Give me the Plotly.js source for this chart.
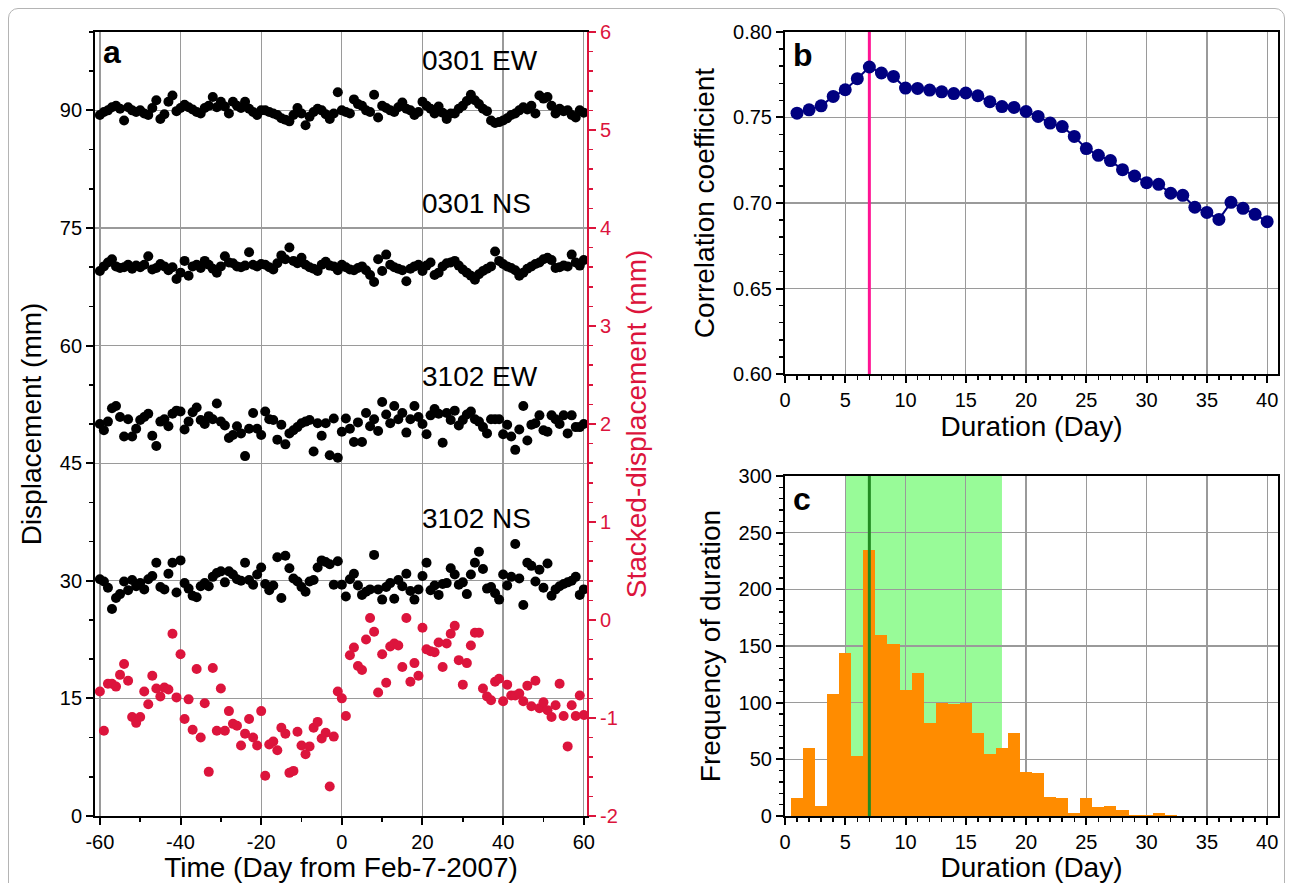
<!DOCTYPE html>
<html><head><meta charset="utf-8">
<script src="https://cdn.plot.ly/plotly-3.0.1.min.js"></script>
<style>
html,body{margin:0;padding:0;background:#fff;overflow:hidden}
#frame{position:absolute;left:8px;top:8px;width:1277px;height:900px;border:1px solid #b4b4b4;border-radius:10px;box-sizing:border-box}
#chart{position:absolute;left:0;top:0;width:1293px;height:883px}
</style></head><body>
<div id="frame"></div><div id="chart"></div>
<script>
// ---------- Panel a data ----------
const days = [-60,-59,-58,-57,-56,-55,-54,-53,-52,-51,-50,-49,-48,-47,-46,-45,-44,-43,-42,-41,-40,-39,-38,-37,-36,-35,-34,-33,-32,-31,-30,-29,-28,-27,-26,-25,-24,-23,-22,-21,-20,-19,-18,-17,-16,-15,-14,-13,-12,-11,-10,-9,-8,-7,-6,-5,-4,-3,-2,-1,0,1,2,3,4,5,6,7,8,9,10,11,12,13,14,15,16,17,18,19,20,21,22,23,24,25,26,27,28,29,30,31,32,33,34,35,36,37,38,39,40,41,42,43,44,45,46,47,48,49,50,51,52,53,54,55,56,57,58,59,60];
const ew0301 = [89.4,89.8,90.0,90.4,90.6,90.2,88.7,90.4,90.0,89.8,90.0,89.6,89.4,90.3,91.3,88.9,89.5,91.1,91.9,89.9,90.3,90.7,90.4,90.1,89.8,89.6,90.3,90.6,91.7,90.4,91.1,90.5,89.6,91.1,90.6,90.3,91.1,90.2,89.8,89.4,90.0,90.0,89.8,89.6,89.4,89.0,88.8,88.6,89.4,90.3,89.6,88.1,89.2,89.8,90.2,90.0,89.5,88.9,89.6,92.3,90.0,89.8,89.6,91.4,90.8,90.6,90.0,89.8,92.0,89.1,90.6,90.3,90.0,89.8,90.4,91.0,90.2,90.0,89.4,89.8,91.1,90.6,90.2,89.6,90.5,89.7,88.9,89.6,89.6,90.2,90.6,91.2,92.0,91.3,90.8,90.2,89.9,88.7,88.4,88.5,88.7,89.0,89.4,89.6,90.0,90.4,90.1,90.6,89.6,91.9,91.5,91.7,90.6,89.6,90.2,89.9,90.0,89.4,89.1,90.0,89.7];
const ns0301 = [69.5,70.1,70.6,71.0,70.1,69.9,70.0,70.3,69.8,70.2,70.0,70.3,71.4,69.7,69.9,70.4,70.1,69.6,70.0,68.5,69.3,70.8,68.9,70.1,70.3,69.9,70.8,70.3,69.8,69.3,70.1,71.4,70.6,70.5,70.1,70.0,70.2,71.9,70.3,70.1,70.4,70.3,70.0,69.7,70.5,71.5,71.0,72.5,70.8,70.5,71.2,70.3,70.0,69.8,69.5,70.3,70.7,70.2,70.1,69.6,70.3,70.0,69.7,69.6,69.9,70.1,69.6,69.0,68.1,71.0,69.5,71.6,70.3,70.0,69.8,69.6,68.2,69.8,70.1,70.3,69.5,70.2,70.6,69.0,69.3,70.1,70.5,70.6,70.8,70.2,69.7,69.3,68.9,68.4,69.1,69.5,69.8,70.1,72.0,70.8,70.4,70.1,69.9,69.6,68.9,69.3,69.8,70.1,70.4,70.6,71.0,71.2,70.9,69.9,70.0,70.2,70.1,71.6,70.6,70.2,70.9];
const ew3102 = [50.0,49.2,50.3,52.0,52.3,50.9,48.4,50.6,48.4,49.4,50.5,50.9,51.3,48.5,47.2,50.3,50.6,49.7,51.3,51.7,51.6,49.3,50.3,51.5,52.1,50.5,50.0,51.0,50.6,52.6,50.3,49.8,48.2,48.6,49.7,48.8,45.9,49.4,51.4,49.4,48.6,51.6,50.6,50.5,48.0,49.9,47.4,48.8,49.2,49.6,50.1,50.3,50.5,46.5,50.1,48.5,50.1,46.0,50.7,45.7,49.0,50.7,49.4,47.7,50.2,47.7,51.4,49.7,50.6,49.1,52.8,51.2,50.1,52.3,50.6,51.4,48.9,50.6,52.3,50.9,50.0,48.7,51.1,51.9,51.3,47.6,51.4,50.5,51.7,49.8,50.5,51.2,51.6,50.6,50.3,49.6,48.8,50.6,50.6,50.6,48.7,49.9,48.4,46.7,49.3,52.3,47.9,49.9,50.1,51.1,49.2,49.0,51.1,50.6,50.0,51.1,48.8,51.1,49.6,49.6,50.0];
const ns3102 = [30.2,29.9,29.1,26.4,27.8,28.3,29.9,28.8,30.1,29.3,29.7,28.9,30.2,30.6,32.3,29.2,28.9,30.9,32.3,28.5,32.6,29.7,29.0,28.1,27.9,29.3,29.7,29.3,30.5,31.0,31.2,29.8,31.2,30.8,30.2,30.0,32.3,30.1,29.5,30.8,31.7,29.6,28.8,29.4,33.0,27.8,33.2,31.6,30.3,29.9,29.2,28.6,29.9,30.1,31.7,32.6,32.4,32.1,29.5,32.5,29.5,28.0,30.2,30.9,29.4,28.2,28.6,28.9,33.3,28.9,27.6,29.2,29.7,27.7,30.1,29.3,30.9,28.7,27.6,28.9,30.6,32.3,28.8,29.4,28.2,29.6,29.7,31.6,30.8,29.5,29.8,28.3,30.8,32.3,33.7,31.5,29.0,29.2,28.4,27.6,30.8,29.4,30.5,34.7,30.3,26.9,32.3,31.9,29.9,31.4,29.1,32.2,28.1,28.9,29.3,29.6,29.8,30.0,30.5,28.2,28.9];
const stacked = [-0.73,-1.13,-0.65,-0.65,-0.68,-0.56,-0.45,-0.62,-0.99,-1.05,-0.99,-0.73,-0.86,-0.57,-0.70,-0.78,-0.69,-0.71,-0.14,-0.79,-0.35,-1.01,-0.81,-1.12,-0.50,-1.20,-0.85,-1.55,-0.49,-1.13,-0.70,-1.13,-0.93,-1.06,-1.08,-1.28,-1.16,-1.01,-1.20,-1.28,-0.93,-1.59,-1.27,-1.24,-1.33,-1.10,-1.16,-1.56,-1.54,-1.14,-1.28,-1.37,-1.29,-1.10,-1.04,-1.21,-1.15,-1.70,-1.19,-0.73,-0.80,-0.98,-0.36,-0.28,-0.47,-0.51,-0.20,0.02,-0.12,-0.74,-0.35,-0.64,-0.27,-0.24,-0.26,-0.48,0.02,-0.63,-0.44,-0.57,-0.08,-0.30,-0.32,-0.33,-0.23,-0.48,-0.24,-0.14,-0.06,-0.41,-0.66,-0.44,-0.26,-0.13,-0.13,-0.70,-0.78,-0.82,-0.63,-0.60,-0.83,-0.66,-0.77,-0.77,-0.75,-0.83,-0.67,-0.88,-0.62,-0.90,-0.84,-0.92,-0.99,-0.87,-0.65,-0.98,-1.29,-0.87,-0.98,-0.77,-0.97];
const seriesLabels = ['0301 EW','0301 NS','3102 EW','3102 NS'];
const seriesLabelY = [96.3, 78.1, 56.0, 38.0];
const seriesLabelX = 19.5;
const timeTicks = [-60,-40,-20,0,20,40,60];
const timeTickText = ['-60','-40','-20','0','20','40','60'];
const dispTicks = [0,15,30,45,60,75,90];
const stackTicks = [-2,-1,0,1,2,3,4,5,6];
const stackTickText = ['-2','-1','0','1','2','3','4','5','6'];

// ---------- Panel b data ----------
const durationDays = [1,2,3,4,5,6,7,8,9,10,11,12,13,14,15,16,17,18,19,20,21,22,23,24,25,26,27,28,29,30,31,32,33,34,35,36,37,38,39,40];
const corrCoef = [0.7525,0.7545,0.7568,0.7623,0.7662,0.7727,0.7795,0.7760,0.7740,0.7672,0.7670,0.7660,0.7650,0.7640,0.7643,0.7627,0.7592,0.7564,0.7559,0.7535,0.7506,0.7467,0.7447,0.7389,0.7318,0.7279,0.7248,0.7195,0.7158,0.7119,0.7109,0.7057,0.7045,0.6975,0.6945,0.6904,0.7004,0.6969,0.6934,0.6891];
const bestDuration = 7;

// ---------- Panel c data ----------
const histDays = [1,2,3,4,5,6,7,8,9,10,11,12,13,14,15,16,17,18,19,20,21,22,23,24,25,26,27,28,29,30,31,32];
const histFreq = [16,60,9,108,144,53,235,160,152,111,126,82,100,99,100,73,55,60,73,39,38,17,16,3,16,8,9,5,1,1,3,1];
const rangeStart = 5, rangeEnd = 18;
const durTicks = [0,5,10,15,20,25,30,35,40];

const FONT = 'Liberation Sans, Arial, Helvetica, sans-serif';
const TICKF = {family: FONT, size: 20, color: '#000'};
const TITLEF = {family: FONT, size: 28, color: '#000'};
const GRID = '#9a9a9a';
const RED = '#dc143c';

const traces = [];
const blackSeries = [ew0301, ns0301, ew3102, ns3102];
blackSeries.forEach((s, i) => traces.push({
  type: 'scatter', mode: 'markers', x: days, y: s, xaxis: 'x', yaxis: 'y',
  marker: {color: '#000', size: 10}, name: seriesLabels[i], showlegend: false
}));
traces.push({
  type: 'scatter', mode: 'markers', x: days, y: stacked, xaxis: 'x', yaxis: 'y2',
  marker: {color: RED, size: 10}, name: 'stacked', showlegend: false
});
traces.push({
  type: 'scatter', mode: 'lines', x: [bestDuration, bestDuration], y: [0.6, 0.8],
  xaxis: 'x2', yaxis: 'y3', line: {color: '#ff1493', width: 3}, showlegend: false
});
traces.push({
  type: 'scatter', mode: 'lines+markers', x: durationDays, y: corrCoef, xaxis: 'x2', yaxis: 'y3',
  line: {color: '#000080', width: 2}, marker: {color: '#000080', size: 13}, showlegend: false
});
traces.push({
  type: 'bar', x: histDays, y: histFreq, width: 1, xaxis: 'x3', yaxis: 'y4',
  marker: {color: '#ff8c00', line: {width: 0}}, showlegend: false
});

const axBase = {
  showline: true, linecolor: '#000', linewidth: 2, ticks: 'outside', ticklen: 7, tickwidth: 2,
  tickcolor: '#000', showgrid: true, gridcolor: GRID, gridwidth: 1.3, zeroline: false,
  tickfont: TICKF, mirror: true, automargin: false
};
const minorT = (d) => ({dtick: d, ticklen: 4, tickwidth: 1.5, tickcolor: '#000', showgrid: false});

const layout = {
  width: 1293, height: 883, margin: {l: 0, r: 0, t: 0, b: 0},
  paper_bgcolor: 'rgba(0,0,0,0)', plot_bgcolor: 'rgba(0,0,0,0)',
  showlegend: false, bargap: 0,
  font: {family: FONT, color: '#000'},
  xaxis: Object.assign({}, axBase, {
    domain: [0.0735, 0.4540], anchor: 'y', range: [-61.2, 60.8],
    tickmode: 'array', tickvals: timeTicks, ticktext: timeTickText, minor: minorT(10),
    title: {text: 'Time (Day from Feb-7-2007)', font: TITLEF, standoff: 2}
  }),
  yaxis: Object.assign({}, axBase, {
    domain: [0.0759, 0.9638], anchor: 'x', range: [0, 100], mirror: false,
    tickmode: 'array', tickvals: dispTicks, minor: minorT(5),
    title: {text: 'Displacement (mm)', font: TITLEF, standoff: 10}
  }),
  yaxis2: Object.assign({}, axBase, {
    overlaying: 'y', side: 'right', anchor: 'x', range: [-2, 6], showgrid: false, mirror: false,
    linecolor: RED, tickcolor: RED, tickfont: Object.assign({}, TICKF, {color: RED}),
    tickmode: 'array', tickvals: stackTicks, ticktext: stackTickText,
    minor: {dtick: 0.2, ticklen: 4, tickwidth: 1.5, tickcolor: RED, showgrid: false},
    title: {text: 'Stacked-displacement (mm)', font: Object.assign({}, TITLEF, {color: RED}), standoff: 10}
  }),
  xaxis2: Object.assign({}, axBase, {
    domain: [0.6071, 0.9884], anchor: 'y3', range: [0, 40.9],
    tickmode: 'array', tickvals: durTicks, minor: minorT(1),
    title: {text: 'Duration (Day)', font: TITLEF, standoff: 2}
  }),
  yaxis3: Object.assign({}, axBase, {
    domain: [0.5764, 0.9638], anchor: 'x2', range: [0.6, 0.8],
    dtick: 0.05, tick0: 0.6, tickformat: '.2f', minor: minorT(0.01),
    title: {text: 'Correlation coefficient', font: TITLEF, standoff: 10}
  }),
  xaxis3: Object.assign({}, axBase, {
    domain: [0.6071, 0.9884], anchor: 'y4', range: [0, 40.9],
    tickmode: 'array', tickvals: durTicks, minor: minorT(1),
    title: {text: 'Duration (Day)', font: TITLEF, standoff: 2}
  }),
  yaxis4: Object.assign({}, axBase, {
    domain: [0.0759, 0.4609], anchor: 'x3', range: [0, 300],
    dtick: 50, tick0: 0, minor: minorT(10),
    title: {text: 'Frequency of duration', font: TITLEF, standoff: 10}
  }),
  shapes: [
    {type: 'rect', xref: 'x3', yref: 'y4 domain', x0: rangeStart, x1: rangeEnd, y0: 0, y1: 1,
     fillcolor: '#98fb98', line: {width: 0}, layer: 'below'},
    {type: 'line', xref: 'x3', yref: 'y4 domain', x0: bestDuration, x1: bestDuration, y0: 0, y1: 1,
     line: {color: '#228b22', width: 3}, layer: 'above'}
  ],
  annotations: [
    ...seriesLabels.map((t, i) => ({xref: 'x', yref: 'y', x: seriesLabelX, y: seriesLabelY[i], text: t,
      showarrow: false, xanchor: 'left', yanchor: 'middle', font: {family: FONT, size: 28, color: '#000'}})),
    {xref: 'x domain', yref: 'y domain', x: 0.012, y: 1.0, text: '<b>a</b>', showarrow: false,
     xanchor: 'left', yanchor: 'top', font: {family: FONT, size: 32, color: '#000'}},
    {xref: 'x2 domain', yref: 'y3 domain', x: 0.012, y: 0.99, text: '<b>b</b>', showarrow: false,
     xanchor: 'left', yanchor: 'top', font: {family: FONT, size: 32, color: '#000'}},
    {xref: 'x3 domain', yref: 'y4 domain', x: 0.012, y: 0.99, text: '<b>c</b>', showarrow: false,
     xanchor: 'left', yanchor: 'top', font: {family: FONT, size: 32, color: '#000'}}
  ]
};

Plotly.newPlot('chart', traces, layout, {staticPlot: true, displayModeBar: false});
</script>
</body></html>
